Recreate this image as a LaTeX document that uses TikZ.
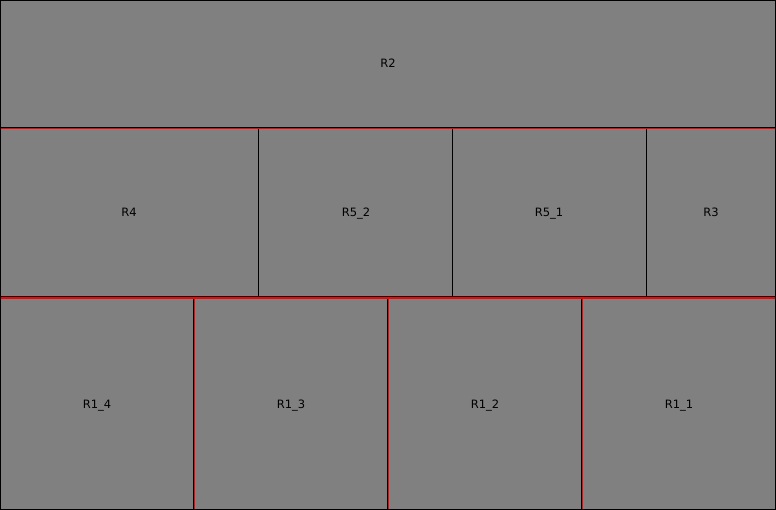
\documentclass[tikz,border=0pt]{standalone}
\usepackage{fontspec}
\setmainfont{DejaVu Sans}

\tikzset{
  cell/.style={fill=gray, draw=black, line width=1pt},
  cut/.style={draw=red, line width=1.6pt},
  lbl/.style={font=\fontsize{11.5}{13}\selectfont, text=black, anchor=base}
}

\begin{document}
\begin{tikzpicture}[x=1pt, y=-1pt]
    \useasboundingbox (0,0) rectangle (776,510);

    % Bande du haut
    \draw[cell] (0.5,0.5) rectangle (775.5,127.5);
    \node[lbl] (r2) at (388,68) {R2};

    % Rangée du milieu
    \draw[cell] (0.5,127.5) rectangle (258.5,296.5);
    \node[lbl] (r4) at (129,217) {R4};
    \draw[cell] (258.5,127.5) rectangle (452.5,296.5);
    \node[lbl] (r52) at (356,217) {R5\_2};
    \draw[cell] (452.5,127.5) rectangle (646.5,296.5);
    \node[lbl] (r51) at (549,217) {R5\_1};
    \draw[cell] (646.5,127.5) rectangle (775.5,296.5);
    \node[lbl] (r3) at (711,217) {R3};

    % Rangée du bas
    \draw[cell] (0.5,296.5) rectangle (193.5,509.5);
    \node[lbl] (r14) at (97,408) {R1\_4};
    \draw[cell] (193.5,296.5) rectangle (387.5,509.5);
    \node[lbl] (r13) at (291,408) {R1\_3};
    \draw[cell] (387.5,296.5) rectangle (581.5,509.5);
    \node[lbl] (r12) at (485,408) {R1\_2};
    \draw[cell] (581.5,296.5) rectangle (775.5,509.5);
    \node[lbl] (r11) at (679,408) {R1\_1};

    % Coupes (rouge)
    \draw[cut] (1,128.7) -- (775,128.7);
    \draw[cut] (1,298.2) -- (775,298.2);
    \draw[cut] (194.5,298.2) -- (194.5,509);
    \draw[cut] (388.5,298.2) -- (388.5,509);
    \draw[cut] (582.5,298.2) -- (582.5,509);
\end{tikzpicture}
\end{document}
